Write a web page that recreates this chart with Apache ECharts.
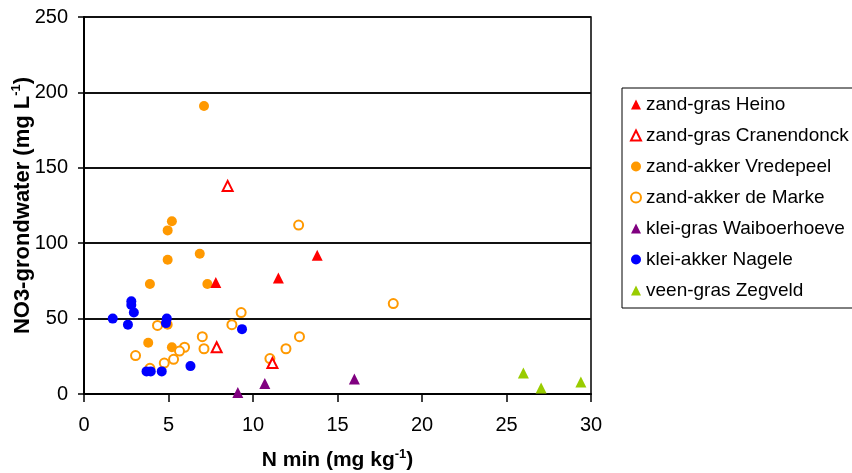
<!DOCTYPE html>
<html>
<head>
<meta charset="utf-8">
<title>NO3 grondwater vs N min</title>
<script src="https://cdn.jsdelivr.net/npm/echarts@6/dist/echarts.min.js"></script>
<style>
  html, body { margin: 0; padding: 0; background: #fff; }
  #chart { width: 852px; height: 473px; }
</style>
</head>
<body>
<div id="chart"></div>
<script>
// [N min, NO3] per location
var heino = [[7.8, 74], [11.5, 77], [13.8, 92]];
var cranendonck = [[8.5, 138], [7.85, 31], [11.15, 20.5]];
var vredepeel = [[7.1, 191], [5.2, 114.5], [4.95, 108.5], [6.85, 93], [4.95, 89],
  [3.9, 73], [7.3, 73], [4.95, 46], [3.8, 34], [5.2, 31]];
var deMarke = [[12.7, 112], [18.3, 60], [9.3, 54], [8.75, 46], [4.35, 45.5], [7.0, 38],
  [12.75, 38], [5.95, 31], [5.65, 28.5], [7.1, 30], [11.95, 30], [3.05, 25.5],
  [5.3, 23], [4.75, 20.5], [3.9, 17], [11.0, 23.5]];
var waiboerhoeve = [[9.1, 1], [10.7, 7], [16.0, 10]];
var nagele = [[2.8, 61.5], [2.8, 59], [2.95, 54], [1.7, 50], [2.6, 46], [4.9, 50],
  [4.85, 47], [9.35, 43], [6.3, 18.5], [3.7, 15], [3.95, 15], [4.6, 15]];
var zegveld = [[26, 14], [27.05, 4], [29.4, 8]];

var legendNames = ['zand-gras Heino', 'zand-gras Cranendonck', 'zand-akker Vredepeel',
  'zand-akker de Marke', 'klei-gras Waiboerhoeve', 'klei-akker Nagele', 'veen-gras Zegveld'];

var font = 'Liberation Sans, Arial, sans-serif';

function filled(name, data, symbol, color, size) {
  return {
    name: name, type: 'scatter', data: data, symbol: symbol, symbolSize: size,
    itemStyle: { color: color, opacity: 1 }
  };
}
function open(name, data, symbol, color, size) {
  return {
    name: name, type: 'scatter', data: data, symbol: symbol, symbolSize: size,
    itemStyle: { color: '#fff', borderColor: color, borderWidth: 2, opacity: 1 }
  };
}

function nameRich(size) {
  return {
    b: { fontFamily: font, fontSize: size, fontWeight: 'bold', color: '#000', lineHeight: size + 3 },
    s: { fontFamily: font, fontSize: 13, fontWeight: 'bold', color: '#000', verticalAlign: 'top', lineHeight: size + 3 }
  };
}

var chart = echarts.init(document.getElementById('chart'));
chart.setOption({
  animation: false,
  grid: {
    left: 84, right: 261, top: 17, bottom: 79,
    outerBoundsMode: 'none', containLabel: false,
    show: true, borderColor: '#000', borderWidth: 1.5
  },
  legend: {
    orient: 'vertical', left: 622, top: 88,
    data: legendNames,
    itemWidth: 10, itemHeight: 10, itemGap: 12,
    padding: [7, 20, 8, 8],
    borderColor: '#000', borderWidth: 1,
    textStyle: { fontFamily: font, fontSize: 19, color: '#000' }
  },
  xAxis: {
    type: 'value', min: 0, max: 30, interval: 5,
    name: '{b|N min (mg kg}{s|-1}{b|)}',
    nameLocation: 'middle', nameGap: 54, nameMoveOverlap: false,
    nameTextStyle: { rich: nameRich(21) },
    axisLine: { lineStyle: { color: '#000', width: 2 } },
    axisTick: { show: true, inside: false, length: 8, lineStyle: { color: '#000', width: 1.5 } },
    axisLabel: { margin: 21, fontFamily: font, fontSize: 20, color: '#000' },
    splitLine: { show: false }
  },
  yAxis: {
    type: 'value', min: 0, max: 250, interval: 50,
    name: '{b|NO3-grondwater (mg L}{s|-1}{b|)}',
    nameLocation: 'middle', nameGap: 49, nameRotate: 90, nameMoveOverlap: false,
    nameTextStyle: { rich: nameRich(22) },
    axisLine: { show: true, lineStyle: { color: '#000', width: 2 } },
    axisTick: { show: true, inside: false, length: 6, lineStyle: { color: '#000', width: 1.5 } },
    axisLabel: { margin: 16, fontFamily: font, fontSize: 20, color: '#000' },
    splitLine: { show: true, lineStyle: { color: '#111', width: 2 } }
  },
  series: [
    filled('zand-akker Vredepeel', vredepeel, 'circle', '#FF9900', 10),
    open('zand-akker de Marke', deMarke, 'circle', '#FF9900', 9),
    filled('klei-akker Nagele', nagele, 'circle', '#0000FF', 10),
    filled('zand-gras Heino', heino, 'triangle', '#FF0000', 11),
    open('zand-gras Cranendonck', cranendonck, 'triangle', '#FF0000', 10),
    filled('klei-gras Waiboerhoeve', waiboerhoeve, 'triangle', '#800080', 11),
    filled('veen-gras Zegveld', zegveld, 'triangle', '#99CC00', 11)
  ]
});
</script>
</body>
</html>
